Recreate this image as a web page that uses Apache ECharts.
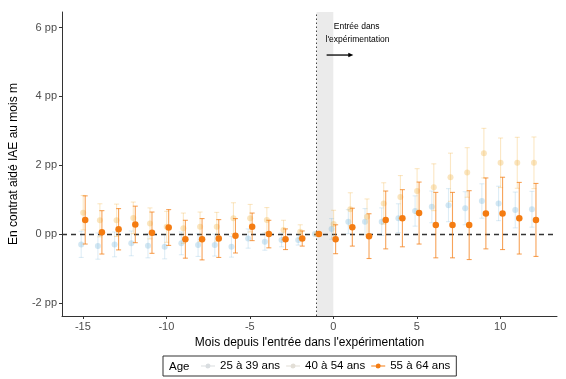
<!DOCTYPE html>
<html><head><meta charset="utf-8">
<script src="https://cdn.jsdelivr.net/npm/echarts@6/dist/echarts.min.js"></script>
<style>html,body{margin:0;padding:0;background:#fff}#c{width:566px;height:379px}</style>
</head><body><div id="c"></div>
<script>
const months = [-15,-14,-13,-12,-11,-10,-9,-8,-7,-6,-5,-4,-3,-2,-1,0,1,2,3,4,5,6,7,8,9,10,11,12];
const age2539 = [-0.30,-0.35,-0.30,-0.27,-0.34,-0.37,-0.27,-0.32,-0.32,-0.37,-0.13,-0.22,-0.17,-0.17,0,0.15,0.36,0.36,0.36,0.46,0.67,0.79,0.84,0.75,0.96,0.89,0.70,0.72];
const age2539Err = [0.38,0.38,0.36,0.36,0.35,0.35,0.33,0.33,0.32,0.30,0.28,0.25,0.20,0.15,0,0.30,0.35,0.38,0.40,0.42,0.44,0.46,0.48,0.48,0.50,0.50,0.52,0.52];
const age4054 = [0.62,0.40,0.40,0.47,0.31,0.21,0.17,0.21,0.21,0.46,0.46,0.41,0.12,0.07,0,0.29,0.72,0.50,0.89,1.08,1.25,1.36,1.65,1.79,2.35,2.07,2.07,2.07];
const age4054Err = [0.50,0.48,0.47,0.46,0.45,0.45,0.44,0.43,0.42,0.45,0.40,0.36,0.28,0.20,0,0.40,0.48,0.52,0.60,0.62,0.65,0.68,0.70,0.72,0.72,0.72,0.74,0.75];
const age5564 = [0.41,0.05,0.14,0.28,0.04,0.19,-0.15,-0.15,-0.13,-0.05,0.21,0.00,-0.15,-0.13,0,-0.15,0.20,-0.06,0.41,0.46,0.61,0.26,0.26,0.26,0.60,0.60,0.46,0.41];
const age5564Err = [0.70,0.63,0.60,0.53,0.60,0.52,0.55,0.60,0.55,0.50,0.40,0.40,0.30,0.22,0,0.42,0.55,0.65,0.84,0.83,0.90,0.95,0.95,1.00,1.03,1.05,1.04,1.06];
const seriesNames = ['25 à 39 ans','40 à 54 ans','55 à 64 ans'];
const yTicks = [-2,0,2,4,6];
const xTicks = [-15,-10,-5,0,5,10];
const annotationLines = ['Entrée dans', "l'expérimentation"];

const FONT = 'Liberation Sans, Arial, sans-serif';
const cfg = [
  {vals: age2539, errs: age2539Err, off: -0.1, color: '#6BAED6', pOp: 0.3, bOp: 0.22},
  {vals: age4054, errs: age4054Err, off: 0.02, color: '#F2B447', pOp: 0.35, bOp: 0.32},
  {vals: age5564, errs: age5564Err, off: 0.14, color: '#F47C12', pOp: 1, bOp: 0.7}
];

function errRenderer(color, op) {
  return function (params, api) {
    const x = api.value(0), lo = api.value(1), hi = api.value(2);
    if (hi - lo < 1e-9) return null;
    const a = api.coord([x, lo]), b = api.coord([x, hi]);
    const w = 2.5;
    const style = {stroke: color, lineWidth: 1.1, opacity: op, fill: null};
    return {type: 'group', children: [
      {type: 'line', shape: {x1: a[0], y1: a[1], x2: b[0], y2: b[1]}, style: style},
      {type: 'line', shape: {x1: a[0]-w, y1: a[1], x2: a[0]+w, y2: a[1]}, style: style},
      {type: 'line', shape: {x1: b[0]-w, y1: b[1], x2: b[0]+w, y2: b[1]}, style: style}
    ]};
  };
}

const series = [];
series.push({
  type: 'line', data: [], silent: true, z: 1,
  markArea: {silent: true, itemStyle: {color: '#EBEBEB'}, data: [[{xAxis: -1}, {xAxis: 0}]]},
  markLine: {silent: true, symbol: 'none', label: {show: false},
    data: [
      {xAxis: -1, lineStyle: {type: [1.5, 2.5], color: '#444', width: 1}},
      {yAxis: 0, lineStyle: {type: [5, 4], color: '#333', width: 1.3}}
    ]}
});
cfg.forEach((c, k) => {
  series.push({
    type: 'custom', name: seriesNames[k] + ' err', z: 3 + k * 2,
    renderItem: errRenderer(c.color, c.bOp),
    encode: {x: 0, y: [1, 2]},
    data: months.map((m, i) => [m + c.off, c.vals[i] - c.errs[i], c.vals[i] + c.errs[i]])
  });
  series.push({
    type: 'scatter', name: seriesNames[k], z: 4 + k * 2,
    symbolSize: k === 2 ? 6.5 : 6,
    itemStyle: {color: c.color, opacity: c.pOp},
    data: months.map((m, i) => [m + c.off, c.vals[i]])
  });
});

const legIcon = 'path://M0,2.6L14,2.6L14,3.4L0,3.4Z M7,0.5A2.5,2.5,0,1,1,6.99,0.5Z';
const chart = echarts.init(document.getElementById('c'), null, {renderer: 'canvas'});
chart.setOption({
  animation: false,
  backgroundColor: '#fff',
  grid: {left: 62, right: 9, top: 12, bottom: 63, containLabel: false},
  xAxis: {
    type: 'value', min: -16.25, max: 13.4,
    name: "Mois depuis l'entrée dans l'expérimentation", nameLocation: 'middle', nameGap: 20,
    nameTextStyle: {color: '#000', fontFamily: FONT, fontSize: 12},
    axisLine: {show: true, onZero: false, lineStyle: {color: '#333', width: 1}},
    axisTick: {show: true, length: 3, customValues: xTicks, lineStyle: {color: '#333'}},
    axisLabel: {customValues: xTicks, color: '#4D4D4D', fontFamily: FONT, fontSize: 11, margin: 5},
    splitLine: {show: false}
  },
  yAxis: {
    type: 'value', min: -2.38, max: 6.45,
    name: 'En contrat aidé IAE au mois m', nameLocation: 'middle', nameGap: 42, nameRotate: 90,
    nameTextStyle: {color: '#000', fontFamily: FONT, fontSize: 12},
    axisLine: {show: true, onZero: false, lineStyle: {color: '#333', width: 1}},
    axisTick: {show: true, length: 3, customValues: yTicks, lineStyle: {color: '#333'}},
    axisLabel: {customValues: yTicks, formatter: v => v + ' pp', color: '#4D4D4D', fontFamily: FONT, fontSize: 11, margin: 5},
    splitLine: {show: false}
  },
  legend: {
    left: 163, top: 356, orient: 'horizontal',
    borderColor: '#333', borderWidth: 1, borderRadius: 0,
    padding: [4, 6, 4, 38], itemGap: 6, itemWidth: 14, itemHeight: 6,
    textStyle: {color: '#000', fontFamily: FONT, fontSize: 11.5},
    data: [
      {name: seriesNames[0], icon: legIcon, itemStyle: {color: '#D9DDE0', opacity: 1}},
      {name: seriesNames[1], icon: legIcon, itemStyle: {color: '#E2DED6', opacity: 1}},
      {name: seriesNames[2], icon: legIcon, itemStyle: {color: '#F47C12', opacity: 1}}
    ]
  },
  series: series
});

// annotation placed through the grid's coordinate system
const toPx = (p) => chart.convertToPixel({gridIndex: 0}, p);
const t1 = toPx([1.4, 6.02]);
const t2 = toPx([1.45, 5.64]);
const a0 = toPx([-0.4, 5.2]);
const a1 = toPx([1.2, 5.2]);
chart.setOption({
  graphic: [
    {type: 'text', z: 100, left: 169, top: 361, style: {text: 'Age', fill: '#000', font: '11.5px ' + FONT}},
    {type: 'text', z: 100, x: t1[0], y: t1[1], style: {text: annotationLines[0], fill: '#000', font: '8.5px ' + FONT, textAlign: 'center', textVerticalAlign: 'middle'}},
    {type: 'text', z: 100, x: t2[0], y: t2[1], style: {text: annotationLines[1], fill: '#000', font: '8.5px ' + FONT, textAlign: 'center', textVerticalAlign: 'middle'}},
    {type: 'line', z: 100, shape: {x1: a0[0], y1: a0[1], x2: a1[0] - 4, y2: a1[1]}, style: {stroke: '#000', lineWidth: 1.3}},
    {type: 'polygon', z: 100, shape: {points: [[a1[0], a1[1]], [a1[0] - 5, a1[1] - 2.2], [a1[0] - 5, a1[1] + 2.2]]}, style: {fill: '#000'}}
  ]
});
</script></body></html>
